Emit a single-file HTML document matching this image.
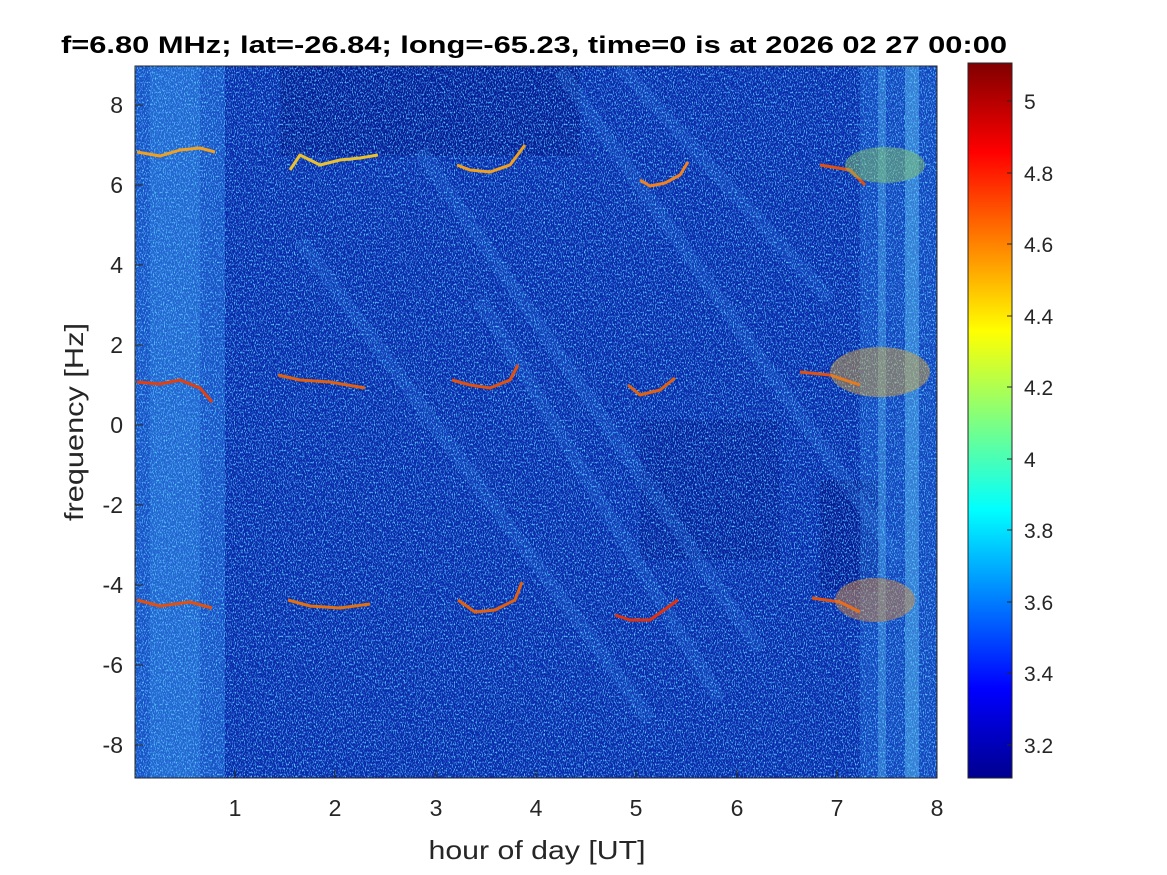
<!DOCTYPE html>
<html><head><meta charset="utf-8"><style>
html,body{margin:0;padding:0;background:#fff;}
svg{display:block;font-family:"Liberation Sans",Arial,sans-serif;}
</style></head><body>
<svg width="1167" height="875" viewBox="0 0 1167 875" xmlns="http://www.w3.org/2000/svg">
<defs>
<linearGradient id="jet" x1="0" y1="1" x2="0" y2="0">
<stop offset="0" stop-color="#00008f"/>
<stop offset="0.125" stop-color="#0000ff"/>
<stop offset="0.375" stop-color="#00ffff"/>
<stop offset="0.625" stop-color="#ffff00"/>
<stop offset="0.875" stop-color="#ff0000"/>
<stop offset="1" stop-color="#800000"/>
</linearGradient>
<filter id="noise" x="0" y="0" width="100%" height="100%">
<feTurbulence type="fractalNoise" baseFrequency="0.9 0.5" numOctaves="2" seed="3"/>
<feColorMatrix type="matrix" values="0 0 0 0 0.1  0 0 0 0 0.6  0 0 0 0 1  0 0 0 4 -2.0"/>
</filter>
<clipPath id="pc"><rect x="135" y="66" width="802" height="712"/></clipPath>
</defs>
<text x="534" y="53" text-anchor="middle" font-size="24" font-weight="bold" textLength="946" lengthAdjust="spacingAndGlyphs">f=6.80 MHz;  lat=-26.84; long=-65.23, time=0 is at 2026 02 27 00:00</text>
<g clip-path="url(#pc)">
<rect x="135" y="66" width="802" height="712" fill="#0a2aac"/>
<rect x="280" y="66" width="300" height="90" fill="#041890" opacity="0.7"/>
<rect x="640" y="420" width="140" height="140" fill="#041890" opacity="0.5"/>
<rect x="820" y="480" width="60" height="110" fill="#031488" opacity="0.6"/>
<rect x="135" y="66" width="90" height="712" fill="#2f80e8" opacity="0.45"/>
<rect x="150" y="66" width="50" height="712" fill="#40a0f0" opacity="0.25"/>
<rect x="860" y="66" width="77" height="712" fill="#2f80e8" opacity="0.3"/>
<rect x="905" y="66" width="14" height="712" fill="#60c0f0" opacity="0.45"/>
<rect x="878" y="66" width="8" height="712" fill="#60c0f0" opacity="0.35"/>
<g stroke="#3a90f0" stroke-width="14" opacity="0.18" fill="none">
<path d="M560 70 L900 560"/><path d="M420 150 L760 650"/><path d="M300 240 L650 720"/>
<path d="M620 66 L830 300"/><path d="M480 300 L720 700"/>
</g>
<rect x="135" y="66" width="802" height="712" filter="url(#noise)"/>
<g fill="none" stroke-width="3" stroke-linejoin="round">
<path d="M137 152 L160 156 L180 150 L200 148 L215 152" stroke="#f0a020"/>
<path d="M290 170 L300 155 L320 165 L340 160 L360 158 L378 155" stroke="#e8c030"/>
<path d="M457 165 L470 170 L490 172 L510 165 L525 145" stroke="#f0a020"/>
<path d="M640 180 L650 186 L665 183 L680 175 L688 162" stroke="#f08020"/>
<path d="M137 382 L160 384 L180 380 L200 388 L212 402" stroke="#e04010"/>
<path d="M278 375 L300 380 L330 382 L365 388" stroke="#e06010"/>
<path d="M452 380 L470 385 L490 388 L510 380 L518 365" stroke="#e05010"/>
<path d="M628 385 L640 395 L660 390 L675 378" stroke="#e06010"/>
<path d="M137 600 L160 606 L190 602 L212 608" stroke="#e05010"/>
<path d="M288 600 L310 606 L340 608 L370 604" stroke="#e07010"/>
<path d="M458 600 L475 612 L495 610 L515 600 L522 582" stroke="#e06010"/>
<path d="M615 615 L630 620 L650 620 L678 600" stroke="#e03010"/>
<path d="M800 372 L830 375 L860 385" stroke="#e05010"/>
<path d="M820 165 L850 170 L865 185" stroke="#e05010"/>
<path d="M812 598 L840 602 L860 612" stroke="#e05010"/>
</g>
<g opacity="0.45">
<ellipse cx="880" cy="372" rx="50" ry="25" fill="#e8b030"/>
<ellipse cx="875" cy="600" rx="40" ry="22" fill="#e89030"/>
<ellipse cx="885" cy="165" rx="40" ry="18" fill="#90d060"/>
</g>
</g>
<rect x="135" y="66" width="802" height="712" fill="none" stroke="#262626" stroke-width="1"/>
<g stroke="#262626" stroke-width="1">
<path d="M235 778v-8M335 778v-8M436 778v-8M536 778v-8M636 778v-8M737 778v-8M837 778v-8"/>
<path d="M135 105h8M135 185h8M135 265h8M135 345h8M135 425h8M135 505h8M135 585h8M135 665h8M135 745h8"/>
</g>
<g font-size="23" fill="#262626" text-anchor="middle">
<text x="235" y="816">1</text><text x="335" y="816">2</text><text x="436" y="816">3</text><text x="536" y="816">4</text>
<text x="636" y="816">5</text><text x="737" y="816">6</text><text x="837" y="816">7</text><text x="937" y="816">8</text>
</g>
<g font-size="23" fill="#262626" text-anchor="end">
<text x="123" y="113">8</text><text x="123" y="193">6</text><text x="123" y="273">4</text><text x="123" y="353">2</text>
<text x="123" y="433">0</text><text x="123" y="513">-2</text><text x="123" y="593">-4</text><text x="123" y="673">-6</text><text x="123" y="753">-8</text>
</g>
<text x="537" y="859" text-anchor="middle" font-size="26" fill="#262626" textLength="217" lengthAdjust="spacingAndGlyphs">hour of day [UT]</text>
<text transform="translate(83 422) rotate(-90)" text-anchor="middle" font-size="26" fill="#262626" textLength="198" lengthAdjust="spacingAndGlyphs">frequency [Hz]</text>
<rect x="968" y="63" width="44" height="715" fill="url(#jet)" stroke="#262626" stroke-width="1"/>
<g stroke="#262626"><path d="M1012 101h-5M1012 173h-5M1012 244h-5M1012 316h-5M1012 387h-5M1012 459h-5M1012 530h-5M1012 602h-5M1012 673h-5M1012 745h-5"/></g>
<g font-size="21" fill="#262626">
<text x="1024" y="109">5</text><text x="1024" y="181">4.8</text><text x="1024" y="252">4.6</text><text x="1024" y="324">4.4</text>
<text x="1024" y="395">4.2</text><text x="1024" y="467">4</text><text x="1024" y="538">3.8</text><text x="1024" y="610">3.6</text>
<text x="1024" y="681">3.4</text><text x="1024" y="753">3.2</text>
</g>
</svg>
</body></html>
